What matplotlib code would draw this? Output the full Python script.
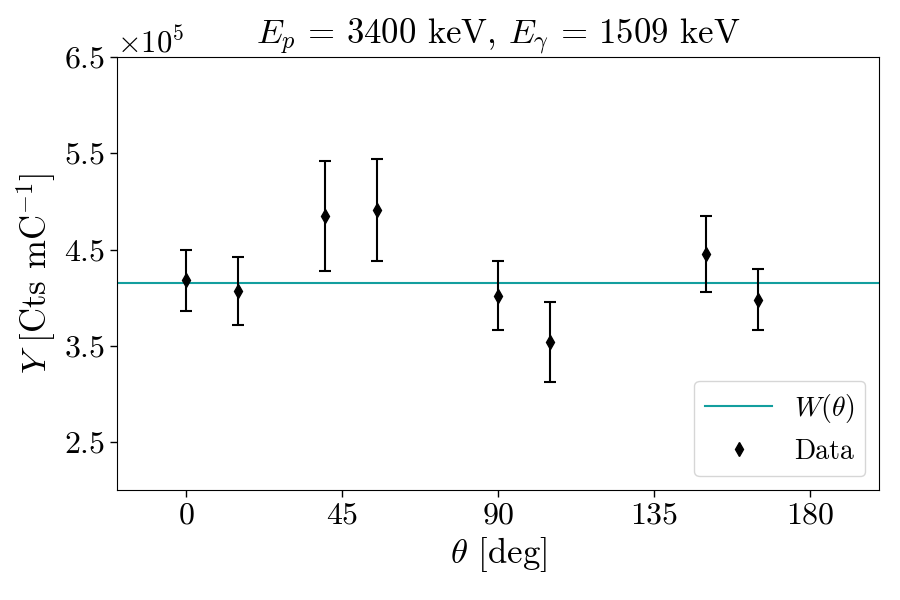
import numpy as np
import matplotlib.pyplot as plt
from matplotlib.ticker import ScalarFormatter

plt.rcParams['font.family'] = 'serif'
plt.rcParams['font.serif'] = ['cmr10', 'DejaVu Serif']
plt.rcParams['mathtext.fontset'] = 'cm'
plt.rcParams['axes.formatter.use_mathtext'] = True
plt.rcParams['axes.unicode_minus'] = False

# angles [deg], yields [Cts/mC], uncertainties
theta = [0, 15, 40, 55, 90, 105, 150, 165]
yld = [4.18e5, 4.07e5, 4.85e5, 4.91e5, 4.02e5, 3.54e5, 4.45e5, 3.98e5]
yerr = [0.315e5, 0.354e5, 0.574e5, 0.533e5, 0.358e5, 0.42e5, 0.395e5, 0.32e5]
w_const = 4.155e5

fig, ax = plt.subplots(figsize=(9, 6), dpi=100)
fig.subplots_adjust(left=0.13, right=0.977, top=0.905, bottom=0.183)

wline = ax.axhline(w_const, color='#139e9e', lw=1.5)
eb = ax.errorbar(theta, yld, yerr=yerr, fmt='d', color='black', ms=7.5,
                 elinewidth=1.5, capsize=4, capthick=1.5)

ax.set_xlim(-20, 200)
ax.set_ylim(2.0e5, 6.5e5)
ax.set_xticks([0, 45, 90, 135, 180])
ax.set_yticks([2.5e5, 3.5e5, 4.5e5, 5.5e5, 6.5e5])
fmt = ScalarFormatter(useMathText=True)
fmt.set_powerlimits((0, 0))
ax.yaxis.set_major_formatter(fmt)
ax.tick_params(labelsize=23, width=1, length=5)
ax.yaxis.get_offset_text().set_fontsize(22)

ax.set_xlabel(r'$\theta$ [deg]', fontsize=25)
ax.set_ylabel(r'$Y$ [Cts mC$^{-1}$]', fontsize=25)
ax.set_title(r'$E_p$ = 3400 keV, $E_\gamma$ = 1509 keV', fontsize=25)

ax.legend([wline, eb[0]], [r'$W(\theta)$', 'Data'], loc='lower right',
          fontsize=20, handlelength=2.4)

fig.savefig('out.png', dpi=100)
